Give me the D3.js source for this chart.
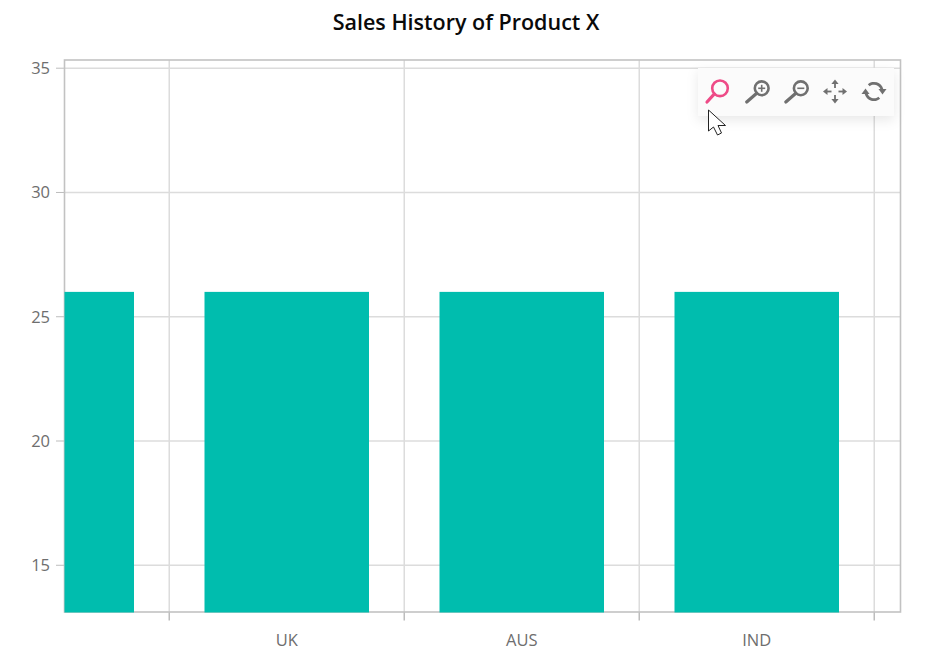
<!DOCTYPE html>
<html>
<head>
<meta charset="utf-8">
<script src="https://cdn.jsdelivr.net/npm/d3@7/dist/d3.min.js"></script>
<style>
html,body{margin:0;padding:0;background:#fff;}
svg{display:block;}
text{font-family:"Open Sans",sans-serif;}
</style>
</head>
<body>
<svg id="chart" width="934" height="659"></svg>
<script>
const chartTitle = "Sales History of Product X";
const categories = ["GER", "UK", "AUS", "IND"];
const sales = [26, 26, 26, 26];
const yTicks = [15, 20, 25, 30, 35];
const visibleYRange = [13.12, 35.33];

const plot = {left: 64.5, right: 900.5, top: 60, bottom: 612};
const svg = d3.select("#chart");

// The view is zoomed and panned, so the first band starts left of the plot area.
const x = d3.scaleBand().domain(categories).range([-65.75, 874.25]).paddingInner(0).paddingOuter(0);
const barWidth = x.bandwidth() * 0.7;
const y = d3.scaleLinear().domain(visibleYRange).range([plot.bottom, plot.top]);

svg.append("defs").append("clipPath").attr("id", "plot-clip")
  .append("rect")
  .attr("x", plot.left).attr("y", plot.top)
  .attr("width", plot.right - plot.left).attr("height", plot.bottom - plot.top + 0.5);

const shadow = svg.select("defs").append("filter").attr("id", "toolbar-shadow")
  .attr("x", "-10%").attr("y", "-30%").attr("width", "120%").attr("height", "170%");
shadow.append("feDropShadow").attr("dx", 0).attr("dy", 4).attr("stdDeviation", 6)
  .attr("flood-color", "#000").attr("flood-opacity", 0.09);

svg.append("text")
  .attr("x", 466).attr("y", 30)
  .attr("text-anchor", "middle")
  .attr("font-size", 21.5).attr("font-weight", 600).attr("fill", "#0a0a0a")
  .text(chartTitle);

// Horizontal grid lines and their ticks
const yAxis = svg.append("g").selectAll("g").data(yTicks).join("g")
  .attr("transform", d => `translate(0,${y(d)})`);
yAxis.append("line").attr("x1", plot.left).attr("x2", plot.right).attr("stroke", "#dcdcdc").attr("stroke-width", 1.5);
yAxis.append("line").attr("x1", 56).attr("x2", plot.left).attr("stroke", "#bdbdbd").attr("stroke-width", 1);
yAxis.append("text").attr("x", 50).attr("y", 6).attr("text-anchor", "end")
  .attr("font-size", 16.5).attr("fill", "#6e6e6e").text(d => d);

// Vertical grid lines sit on the band boundaries
const boundaries = categories.map(c => x(c) + x.bandwidth());
const xAxis = svg.append("g").selectAll("g").data(boundaries).join("g")
  .attr("transform", d => `translate(${d},0)`);
xAxis.append("line").attr("y1", plot.top).attr("y2", plot.bottom).attr("stroke", "#dcdcdc").attr("stroke-width", 1.5);
xAxis.append("line").attr("y1", plot.bottom).attr("y2", 620.5).attr("stroke", "#bdbdbd").attr("stroke-width", 1.5);

// Plot border, painted beneath the bars
svg.append("rect")
  .attr("x", plot.left).attr("y", plot.top)
  .attr("width", plot.right - plot.left).attr("height", plot.bottom - plot.top)
  .attr("fill", "none").attr("stroke", "#c2c2c2").attr("stroke-width", 1.6);

// Bars
svg.append("g").attr("clip-path", "url(#plot-clip)")
  .selectAll("rect").data(categories).join("rect")
  .attr("x", c => x(c) + (x.bandwidth() - barWidth) / 2)
  .attr("width", barWidth)
  .attr("y", (c, i) => y(sales[i]))
  .attr("height", (c, i) => plot.bottom + 1 - y(sales[i]))
  .attr("fill", "#00bdae");

// Category labels, skipping any whose centre falls outside the plot
svg.append("g").selectAll("text")
  .data(categories.filter(c => x(c) >= plot.left)).join("text")
  .attr("x", c => x(c) + x.bandwidth() / 2)
  .attr("y", 645.5)
  .attr("text-anchor", "middle")
  .attr("font-size", 16.5).attr("fill", "#6e6e6e")
  .text(c => c);

// Zoom toolbar
const toolbar = svg.append("g");
toolbar.append("rect").attr("x", 698).attr("y", 68).attr("width", 196).attr("height", 48)
  .attr("fill", "#fbfbfb").attr("filter", "url(#toolbar-shadow)");

function magnifier(cx, color, r, reach, glyph) {
  const g = toolbar.append("g").attr("fill", "none").attr("stroke", color);
  const cy = 88.3;
  g.append("circle").attr("cx", cx).attr("cy", cy).attr("r", r).attr("stroke-width", 2.6);
  g.append("line").attr("x1", cx - r * 0.72).attr("y1", cy + r * 0.72)
    .attr("x2", cx - reach).attr("y2", 102).attr("stroke-width", 3.2).attr("stroke-linecap", "round");
  if (glyph) {
    g.append("line").attr("x1", cx - 3.5).attr("x2", cx + 3.5).attr("y1", cy).attr("y2", cy).attr("stroke-width", 1.6);
    if (glyph === "plus") {
      g.append("line").attr("x1", cx).attr("x2", cx).attr("y1", cy - 3.5).attr("y2", cy + 3.5).attr("stroke-width", 1.6);
    }
  }
}
magnifier(720, "#ee4b87", 7.8, 13);
magnifier(761.7, "#707070", 6.9, 15, "plus");
magnifier(800.8, "#707070", 6.9, 15, "minus");

// Pan icon: four arrows around a centre
const pan = toolbar.append("g").attr("transform", "translate(835,91.5)");
[0, 90, 180, 270].forEach(a => {
  const arm = pan.append("g").attr("transform", `rotate(${a})`);
  arm.append("line").attr("x1", 0).attr("x2", 0).attr("y1", -3.5).attr("y2", -8)
    .attr("stroke", "#707070").attr("stroke-width", 1.8);
  arm.append("path").attr("d", "M-3.6,-7.5L3.6,-7.5L0,-12Z").attr("fill", "#707070");
});

// Reset icon: two arcs with arrowheads
const reset = toolbar.append("g").attr("transform", "translate(874,91.5)");
const resetArc = d3.arc().innerRadius(6.8).outerRadius(9.6);
[[-40, 75], [140, 255]].forEach(([a0, a1], i) => {
  reset.append("path")
    .attr("d", resetArc({startAngle: a0 * Math.PI / 180, endAngle: a1 * Math.PI / 180}))
    .attr("fill", "#707070");
  reset.append("path")
    .attr("d", i === 0 ? "M4.5,-2.5L12.5,-2.5L8.5,3Z" : "M-4.5,2.5L-12.5,2.5L-8.5,-3Z")
    .attr("fill", "#707070");
});

// Mouse pointer
svg.append("path")
  .attr("d", "M708.5,110L708.5,131L713.5,127L717.5,135L721.5,133L718,125.5L725.5,125.5Z")
  .attr("fill", "#fff").attr("stroke", "#222").attr("stroke-width", 1).attr("stroke-linejoin", "round");
</script>
</body>
</html>
